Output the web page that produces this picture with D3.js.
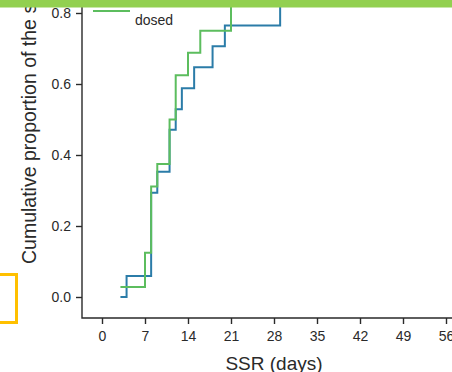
<!DOCTYPE html>
<html>
<head>
<meta charset="utf-8">
<script src="https://cdn.jsdelivr.net/npm/d3@7"></script>
<style>
  html, body { margin: 0; padding: 0; background: #fff; overflow: hidden; }
  svg { display: block; font-family: "Liberation Sans", Arial, sans-serif; }
</style>
</head>
<body>
<div id="chart"></div>
<script>
// step data (days, cumulative proportion)
const blueDays = [3, 4, 8, 9, 11, 12, 13, 15, 18, 20, 29, 35];
const blueProp = [0, 0.059, 0.294, 0.353, 0.471, 0.529, 0.588, 0.647, 0.706, 0.765, 0.882, 0.882];
const greenDays = [3, 7, 8, 9, 11, 12, 14, 16, 21, 30];
const greenProp = [0.028, 0.125, 0.311, 0.375, 0.5, 0.625, 0.688, 0.75, 0.906, 0.906];

const xTicks = [0, 7, 14, 21, 28, 35, 42, 49, 56];
const yTicks = [0, 0.2, 0.4, 0.6, 0.8, 1.0];
const legendLabel = "dosed";
const xTitle = "SSR (days)";
const yTitle = "Cumulative proportion of the subjects";

const width = 452, height = 372;
const blue = "#2b7ca8", green = "#5cbd5e", ink = "#2a2a2a";

const svg = d3.select("#chart").append("svg")
    .attr("width", width)
    .attr("height", height);

const x = d3.scaleLinear().domain([0, 56]).range([102, 446]);
const y = d3.scaleLinear().domain([0, 0.8]).range([297, 13]);

// L-shaped frame, offset from the data region like R's base plot
const frameLeft = x(0) - 20, frameBottom = y(0) + 21;
svg.append("path")
    .attr("d", `M ${frameLeft} ${y(1.1)} V ${frameBottom} H ${width + 10}`)
    .attr("fill", "none")
    .attr("stroke", ink)
    .attr("stroke-width", 1.4);

// y axis
const yAxis = svg.append("g")
    .attr("transform", "translate(" + frameLeft + ",0)")
    .call(d3.axisLeft(y).tickValues(yTicks).tickFormat(d3.format(".1f")).tickSize(6).tickPadding(5));
yAxis.select(".domain").remove();

// x axis
const xAxis = svg.append("g")
    .attr("transform", "translate(0," + frameBottom + ")")
    .call(d3.axisBottom(x).tickValues(xTicks).tickSize(6).tickPadding(7));
xAxis.select(".domain").remove();

svg.selectAll(".tick line").attr("stroke", ink).attr("stroke-width", 1.4);
svg.selectAll(".tick text")
    .attr("fill", ink)
    .style("font-size", "14px")
    .style("font-family", "'Liberation Sans', Arial, sans-serif");

// step curves
const line = d3.line()
    .x(d => x(d[0]))
    .y(d => y(d[1]))
    .curve(d3.curveStepAfter);

svg.append("path")
    .datum(d3.zip(blueDays, blueProp))
    .attr("d", line)
    .attr("fill", "none")
    .attr("stroke", blue)
    .attr("stroke-width", 2);

svg.append("path")
    .datum(d3.zip(greenDays, greenProp))
    .attr("d", line)
    .attr("fill", "none")
    .attr("stroke", green)
    .attr("stroke-width", 2);

// legend (only the lower entry is visible)
svg.append("line")
    .attr("x1", 93).attr("x2", 130)
    .attr("y1", 11).attr("y2", 11)
    .attr("stroke", green)
    .attr("stroke-width", 2);
svg.append("text")
    .attr("x", 135).attr("y", 25)
    .attr("fill", ink)
    .style("font-size", "14px")
    .text(legendLabel);

// axis titles
svg.append("text")
    .attr("x", (x(0) + x(56)) / 2)
    .attr("y", 370)
    .attr("text-anchor", "middle")
    .attr("fill", ink)
    .style("font-size", "19px")
    .text(xTitle);

svg.append("text")
    .attr("transform", "translate(36,264) rotate(-90)")
    .attr("text-anchor", "start")
    .attr("fill", ink)
    .style("font-size", "19.5px")
    .text(yTitle);

// slide decorations: green band on top, orange box at left
svg.append("rect")
    .attr("x", 0).attr("y", 0)
    .attr("width", width).attr("height", 7.5)
    .attr("fill", "#92d050");

svg.append("rect")
    .attr("x", -10).attr("y", 274.5)
    .attr("width", 26.5).attr("height", 48)
    .attr("fill", "none")
    .attr("stroke", "#ffc000")
    .attr("stroke-width", 3);
</script>
</body>
</html>
